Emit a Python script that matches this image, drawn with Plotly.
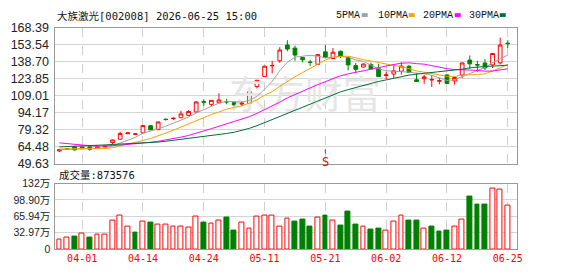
import plotly.graph_objects as go

# ---------------- data ----------------
dates = ["03-27", "03-30", "03-31", "04-01", "04-02", "04-03", "04-07", "04-08", "04-09", "04-10",
         "04-13", "04-14", "04-15", "04-16", "04-17", "04-20", "04-21", "04-22", "04-23", "04-24",
         "04-27", "04-28", "04-29", "04-30", "05-06", "05-07", "05-08", "05-11", "05-12", "05-13",
         "05-14", "05-15", "05-18", "05-19", "05-20", "05-21", "05-22", "05-25", "05-26", "05-27",
         "05-28", "05-29", "06-01", "06-02", "06-03", "06-04", "06-05", "06-08", "06-09", "06-10",
         "06-11", "06-12", "06-15", "06-16", "06-17", "06-18", "06-22", "06-23", "06-24", "06-25"]

opens = [60.7, 62.0, 64.3, 62.7, 64.3, 63.2, 64.3, 68.0, 71.0, 75.8,
         75.2, 76.5, 82.8, 79.3, 88.5, 88.9, 89.8, 91.8, 94.8, 103.9,
         101.5, 102.8, 104.0, 103.0, 101.7, 102.3, 117.0, 125.8, 135.2, 139.6,
         153.4, 150.7, 142.4, 138.5, 136.5, 147.4, 141.6, 147.9, 142.4, 135.4,
         134.1, 136.3, 132.7, 126.7, 128.0, 130.5, 134.8, 123.0, 123.9, 122.8,
         121.8, 127.2, 122.0, 127.1, 140.2, 136.3, 137.6, 136.0, 137.8, 155.0]
highs = [62.2, 63.2, 64.6, 64.5, 64.6, 64.6, 65.2, 70.6, 77.6, 77.3,
         76.2, 83.2, 83.0, 86.4, 89.2, 90.0, 95.9, 96.4, 104.2, 106.0,
         105.3, 111.1, 106.2, 104.0, 104.2, 112.8, 123.0, 135.2, 139.6, 151.5,
         157.6, 152.9, 142.6, 140.4, 145.3, 153.4, 150.7, 148.5, 143.7, 137.6,
         137.2, 138.0, 137.0, 130.0, 136.8, 138.5, 136.0, 129.0, 127.3, 127.1,
         124.5, 128.0, 125.5, 138.0, 144.3, 139.6, 141.0, 146.3, 159.8, 157.6]
lows = [59.8, 61.7, 61.2, 62.3, 61.0, 63.0, 64.0, 66.3, 70.8, 75.5,
        75.0, 76.2, 78.8, 79.0, 87.3, 88.0, 89.5, 91.4, 94.5, 100.2,
        99.6, 102.5, 101.6, 99.5, 100.0, 102.0, 115.5, 125.5, 128.5, 137.8,
        148.0, 139.6, 138.2, 135.0, 136.2, 141.8, 141.3, 142.0, 131.3, 129.1,
        133.8, 132.0, 125.5, 123.5, 124.6, 127.5, 128.8, 121.2, 119.4, 116.7,
        119.0, 119.5, 118.8, 124.4, 132.7, 130.0, 131.5, 133.3, 136.3, 150.7]
closes = [62.0, 62.8, 61.6, 64.2, 62.2, 64.3, 64.9, 70.3, 75.9, 76.5,
          75.6, 82.9, 79.2, 86.1, 88.2, 89.3, 93.1, 95.3, 103.6, 103.4,
          105.0, 105.3, 103.6, 101.0, 102.5, 112.5, 122.5, 134.9, 135.5, 149.0,
          149.9, 144.6, 140.5, 138.1, 145.0, 142.5, 147.1, 143.7, 136.0, 132.1,
          136.8, 132.4, 125.8, 127.3, 130.8, 135.0, 129.3, 121.5, 125.5, 123.2,
          122.1, 119.8, 125.0, 137.7, 136.9, 135.9, 133.4, 146.0, 153.4, 154.6]
volumes = [197000, 235000, 260000, 311000, 241000, 292000, 292000, 577000, 672000, 450000,
           336000, 558000, 526000, 501000, 501000, 463000, 463000, 431000, 653000, 526000,
           520000, 577000, 640000, 374000, 539000, 406000, 653000, 672000, 672000, 450000,
           615000, 545000, 602000, 450000, 634000, 678000, 577000, 469000, 754000, 488000,
           463000, 393000, 412000, 368000, 558000, 672000, 583000, 583000, 412000, 450000,
           355000, 374000, 450000, 602000, 1059000, 888000, 888000, 1224000, 1205000, 873576]

ma5_head = [61.9, 62.1, 62.2, 62.5]
ma10_head = [62.5, 62.5, 62.4, 62.5, 62.5, 62.5, 62.8, 63.6, 65.0]
ma20_head = [67.8, 67.1, 66.4, 65.8, 65.3, 65.0, 65.0, 65.4, 65.9, 66.4,
             66.9, 67.5, 68.3, 69.2, 70.3, 71.5, 72.8, 74.3, 76.1]
ma30_head = [64.3, 64.5, 64.7, 65.0, 65.3, 65.6, 66.0, 66.4, 66.7, 66.9,
             67.1, 67.5, 68.0, 68.5, 69.2, 70.0, 70.8, 71.6, 72.3, 73.2,
             74.1, 75.0, 76.0, 77.1, 78.6, 80.5, 82.8, 85.5, 88.3]

tick_dates = ["04-01", "04-14", "04-24", "05-11", "05-21", "06-02", "06-12", "06-25"]
price_ticks = [49.63, 64.48, 79.32, 94.17, 109.01, 123.85, 138.70, 153.54, 168.39]
vol_max = 1318700
vol_ticks = [0, 329700, 659400, 989000, 1318700]
vol_tick_text = ["0", "32.97万", "65.94万", "98.90万", "132万"]
ma_names = ["5PMA", "10PMA", "20PMA", "30PMA"]
ma_colors = ["#a0a0a0", "#f5a300", "#ff00ff", "#006e3a"]
title_text = "大族激光[002008] 2026-06-25 15:00"
vol_title = "成交量:873576"
signal_date = "05-21"

# ---------------- derived ----------------
n = len(dates)
xs = list(range(n))


def moving_avg(period, head):
    vals = list(head)
    for i in range(period - 1, n):
        vals.append(sum(closes[i - period + 1:i + 1]) / period)
    return vals


mas = [moving_avg(5, ma5_head), moving_avg(10, ma10_head),
       moving_avg(20, ma20_head), moving_avg(30, ma30_head)]

RED = "#ff0000"
GREEN = "#008000"
vol_up = []
for i in range(n):
    ref = closes[i - 1] if i > 0 else opens[i]
    vol_up.append(closes[i] >= ref)
vol_fill = ["#ffffff" if u else GREEN for u in vol_up]
vol_line = [RED if u else GREEN for u in vol_up]

tickvals = [dates.index(d) for d in tick_dates]
xrange_ = [-0.52, n + 0.16]

W, H = 578, 276
L, R = 56, 522
MT, MB = 22, 165
VT, VB = 186, 255

fig = go.Figure()

# watermark
fig.add_trace(go.Scatter(x=[32.3], y=[106.5], mode="text", text=["东方财富"],
                         textfont=dict(family="Noto Sans CJK SC", size=38, color="#e6e6e6"),
                         hoverinfo="skip", showlegend=False, xaxis="x", yaxis="y"))

fig.add_trace(go.Candlestick(
    x=xs, open=opens, high=highs, low=lows, close=closes,
    increasing=dict(line=dict(color=RED, width=1), fillcolor="#ffffff"),
    decreasing=dict(line=dict(color=GREEN, width=1), fillcolor=GREEN),
    whiskerwidth=0, showlegend=False, xaxis="x", yaxis="y"))

for vals, name, col in zip(mas, ma_names, ma_colors):
    fig.add_trace(go.Scatter(x=xs, y=vals, mode="lines", name=name,
                             line=dict(color=col, width=1), showlegend=False,
                             xaxis="x", yaxis="y"))

fig.add_trace(go.Bar(x=xs, y=volumes, width=0.62,
                     marker=dict(color=vol_fill, line=dict(color=vol_line, width=1)),
                     showlegend=False, xaxis="x2", yaxis="y2"))

grid = "#d4d4d4"
frame = "#9a9a9a"
px_x = lambda p: p / W
px_y = lambda p: 1 - p / H

fig.update_layout(
    width=W, height=H, margin=dict(l=0, r=0, t=0, b=0),
    paper_bgcolor="#ffffff", plot_bgcolor="#ffffff",
    bargap=0,
    xaxis=dict(domain=[px_x(L), px_x(R)], range=xrange_, tickmode="array", tickvals=tickvals,
               showticklabels=False, showgrid=True, gridcolor="#cfcfcf", griddash="dash",
               gridwidth=1, zeroline=False, showline=True, linecolor=frame, mirror=True,
               ticks="", rangeslider=dict(visible=False), anchor="y", fixedrange=True),
    yaxis=dict(domain=[px_y(MB), px_y(MT)], range=[price_ticks[0], price_ticks[-1]],
               tickmode="array", tickvals=price_ticks,
               ticktext=["%.2f" % v for v in price_ticks],
               tickfont=dict(family="Liberation Sans, Arial", size=12.5, color="#222222"),
               showgrid=True, gridcolor=grid, zeroline=False, showline=True,
               linecolor=frame, mirror=True, ticks="", ticklabelstandoff=3, anchor="x"),
    xaxis2=dict(domain=[px_x(L), px_x(R)], range=xrange_, tickmode="array", tickvals=tickvals,
                ticktext=tick_dates,
                tickfont=dict(family="DejaVu Sans Mono", size=10, color=RED),
                showgrid=True, gridcolor="#cfcfcf", griddash="dash", zeroline=False,
                showline=True, linecolor=frame, mirror=True, ticks="", anchor="y2"),
    yaxis2=dict(domain=[px_y(VB), px_y(VT)], range=[0, vol_max], tickmode="array",
                tickvals=vol_ticks, ticktext=vol_tick_text,
                tickfont=dict(family="Liberation Sans, Arial, Noto Sans CJK SC", size=10.5, color="#222222"),
                showgrid=True, gridcolor=grid, zeroline=False, showline=True,
                linecolor=frame, mirror=True, ticks="", ticklabelstandoff=2, anchor="x2"),
)

ann = []
ann.append(dict(xref="paper", yref="paper", x=px_x(L), y=px_y(10), xanchor="left", yanchor="middle",
                text=title_text, showarrow=False,
                font=dict(family="DejaVu Sans Mono, Noto Sans CJK SC", size=10.5, color="#111111")))
ann.append(dict(xref="paper", yref="paper", x=px_x(58), y=px_y(177.5), xanchor="left", yanchor="middle",
                text=vol_title, showarrow=False,
                font=dict(family="DejaVu Sans Mono, Noto Sans CJK SC", size=10.5, color="#111111")))

legend_text_x = [338, 380, 425, 472]
legend_box_x = [365.5, 413, 459.5, 505]
shapes = []
for name, col, tx, bx in zip(ma_names, ma_colors, legend_text_x, legend_box_x):
    ann.append(dict(xref="paper", yref="paper", x=px_x(tx), y=px_y(9), xanchor="left", yanchor="middle",
                    text=name, showarrow=False,
                    font=dict(family="Liberation Mono, DejaVu Sans Mono", size=10, color="#111111")))
    shapes.append(dict(type="rect", xref="paper", yref="paper", x0=px_x(bx), x1=px_x(bx + 6),
                       y0=px_y(10.5), y1=px_y(6.5), fillcolor=col, line=dict(width=0)))

# sell signal marker
sig_i = dates.index(signal_date)
ann.append(dict(xref="x", yref="y", x=sig_i, y=62.3, ax=0, ay=13, showarrow=True,
                arrowhead=0, arrowwidth=1, arrowcolor=RED, text="S",
                font=dict(family="DejaVu Sans Mono", size=12, color=RED)))

fig.update_layout(annotations=ann, shapes=shapes)
fig.write_html("out.html")
